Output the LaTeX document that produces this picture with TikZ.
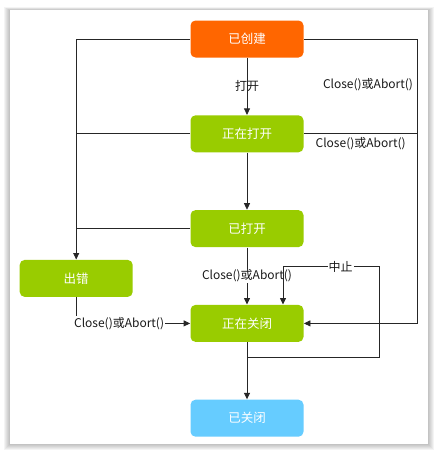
\documentclass[tikz,border=0pt]{standalone}
\usepackage{fontspec}
\newfontfamily\cjk{Noto Sans CJK SC}
\usetikzlibrary{positioning,arrows.meta}
\definecolor{orangebox}{HTML}{FF6600}
\definecolor{greenbox}{HTML}{99CC00}
\definecolor{bluebox}{HTML}{66CCFF}
\begin{document}
\begin{tikzpicture}[%
    x=1pt, y=1pt,
    phase/.style={rounded corners=5pt, minimum width=113pt, minimum height=37pt,
      inner sep=0pt, text=white, font=\cjk\fontsize{12.5}{15}\selectfont},
    lbl/.style={font=\cjk\fontsize{12}{14}\selectfont, text=black!90, inner sep=1pt},
    arr/.style={-{Triangle[length=6.5pt,width=6pt]}},
    line width=0.8pt, draw=black!85]
    \useasboundingbox (0,0) rectangle (438,-455);
    % card with shadow
    \foreach \s in {1,...,6}
      \fill[black, opacity=0.045] (10-\s,-10+0.5*\s) rectangle (428+\s,-444-\s);
    \fill[white] (10,-10) rectangle (428,-444);
    % states
    \node [phase, fill=orangebox] (created) at (247,-39) {已创建};
    \node [phase, fill=greenbox, below=57pt of created] (opening) {正在打开};
    \node [phase, fill=greenbox, below=57pt of opening] (opened) {已打开};
    \node [phase, fill=greenbox, below=57pt of opened] (closing) {正在关闭};
    \node [phase, fill=bluebox, below=57pt of closing] (closed) {已关闭};
    \node [phase, fill=greenbox, left=57pt of closing, yshift=45pt] (failed) {出错};
    \coordinate (rx) at ([xshift=113.5pt]created.east);
    % transitions
    \draw [arr] (created) -- node [lbl] {打开} (opening);
    \draw [arr] (opening) -- (opened);
    \draw [arr] (opened) -- node [lbl, fill=white] {Close()或Abort()} (closing);
    \draw [arr] (created) -| (failed);
    \draw (opening.west) -- (opening.west -| failed);
    \draw (opened.west) -- (opened.west -| failed);
    \draw [arr] (created.east) -- (created.east -| rx)
      |- node [lbl, pos=0.08, anchor=east, xshift=-3pt] {Close()或Abort()} (closing.east);
    \draw (opening.east) -- node [lbl, below, yshift=-2pt] {Close()或Abort()} (opening.east -| rx);
    \draw [arr] (failed) |- node [lbl, fill=white, pos=0.5, anchor=west, xshift=-3.5pt] {Close()或Abort()} (closing);
    \draw [arr] (closing.south) -- ++(0,-15) -| ([xshift=132pt,yshift=38pt]closing.north)
      -| node [lbl, fill=white, pos=0.2] {中止} ([xshift=36pt]closing.north);
    \draw [arr] (closing) -- (closed);
  \end{tikzpicture}
\end{document}
